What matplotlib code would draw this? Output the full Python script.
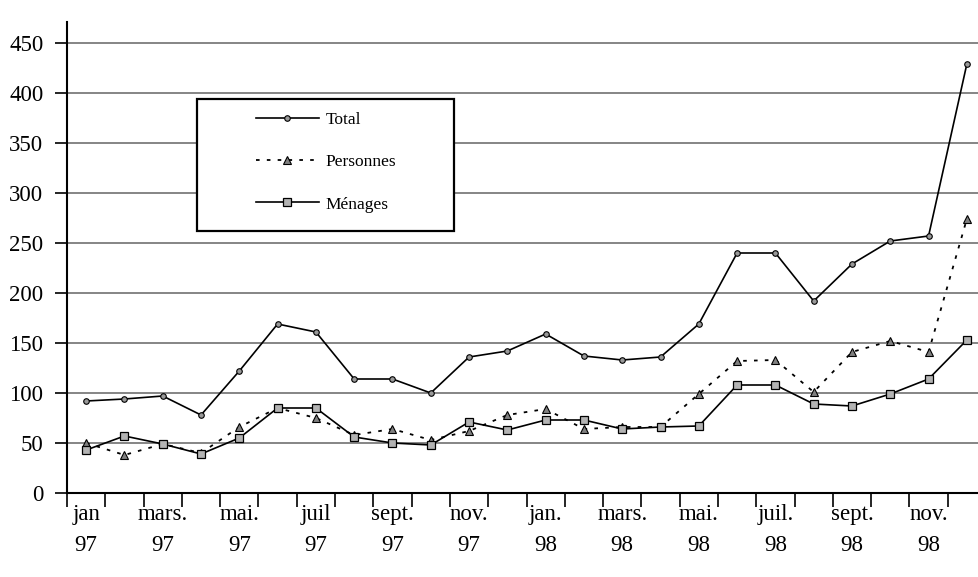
import matplotlib
matplotlib.use('Agg')
import numpy as np
import matplotlib.pyplot as plt
from matplotlib.patches import Rectangle

months = ['jan\n97', 'fév.\n97', 'mars.\n97', 'avr.\n97', 'mai.\n97', 'juin\n97',
          'juil\n97', 'août\n97', 'sept.\n97', 'oct.\n97', 'nov.\n97', 'déc.\n97',
          'jan.\n98', 'fév.\n98', 'mars.\n98', 'avr.\n98', 'mai.\n98', 'juin\n98',
          'juil.\n98', 'août\n98', 'sept.\n98', 'oct.\n98', 'nov.\n98', 'déc.\n98']

total = [92, 94, 97, 78, 122, 169, 161, 114, 114, 100, 136, 142,
         159, 137, 133, 136, 169, 240, 240, 192, 229, 252, 257, 429]
personnes = [50, 38, 49, 40, 66, 85, 75, 58, 64, 53, 62, 78,
             84, 64, 66, 66, 99, 132, 133, 101, 141, 152, 141, 274]
menages = [43, 57, 49, 39, 55, 85, 85, 56, 50, 48, 71, 63,
           73, 73, 64, 66, 67, 108, 108, 89, 87, 99, 114, 153]

plt.rcParams['font.family'] = ['Liberation Serif', 'DejaVu Serif']

W, H = 979, 577
fig = plt.figure(figsize=(W/100, H/100), dpi=100)
ax = fig.add_axes([67/W, 1 - 493/H, 919/W, (493 - 22)/H])

x = np.arange(len(total))
ax.plot(x, total, '-', color='black', lw=1.2, marker='o', ms=4,
        mfc='0.6', mec='black', mew=0.8, label='Total', zorder=5)
ax.plot(x, personnes, color='black', lw=1.3, ls=(0, (2, 4)), marker='^', ms=6,
        mfc='0.5', mec='black', mew=0.8, label='Personnes', zorder=5)
ax.plot(x, menages, '-', color='black', lw=1.2, marker='s', ms=5.5,
        mfc='0.7', mec='black', mew=0.9, label='Ménages', zorder=5)

ax.set_xlim(-0.5, 23.5)
ax.set_ylim(0, 471)
ax.set_yticks(np.arange(0, 451, 50))
ax.tick_params(axis='y', length=9, width=1.2, pad=8, labelsize=16.5, direction='out')

ax.set_xticks(np.arange(-0.5, 24, 1))
ax.set_xticklabels([])
ax.tick_params(axis='x', which='major', length=10, width=1.2, direction='out')
ax.set_xticks(x[::2], minor=True)
ax.set_xticklabels(months[::2], minor=True, linespacing=1.6)
ax.tick_params(axis='x', which='minor', length=0, pad=8, labelsize=16.5)

for v in range(50, 451, 50):
    ax.axhline(v, color='#858585', lw=1.4, zorder=1)

for s in ['top', 'right']:
    ax.spines[s].set_visible(False)
for s in ['left', 'bottom']:
    ax.spines[s].set_linewidth(1.5)
    ax.spines[s].set_color('black')

box = Rectangle((197/W, 1 - 231/H), 257/W, 132/H, transform=fig.transFigure,
                facecolor='white', edgecolor='black', lw=1.6, zorder=3, clip_on=False)
ax.add_patch(box)

leg = ax.legend(loc='upper left', bbox_to_anchor=(256/W, 1 - 112/H),
                bbox_transform=fig.transFigure, frameon=False, fontsize=12.5,
                handlelength=3.6, handletextpad=0.4, labelspacing=1.5,
                borderpad=0, borderaxespad=0)
leg.set_zorder(6)

fig.savefig('out.png', dpi=100)
